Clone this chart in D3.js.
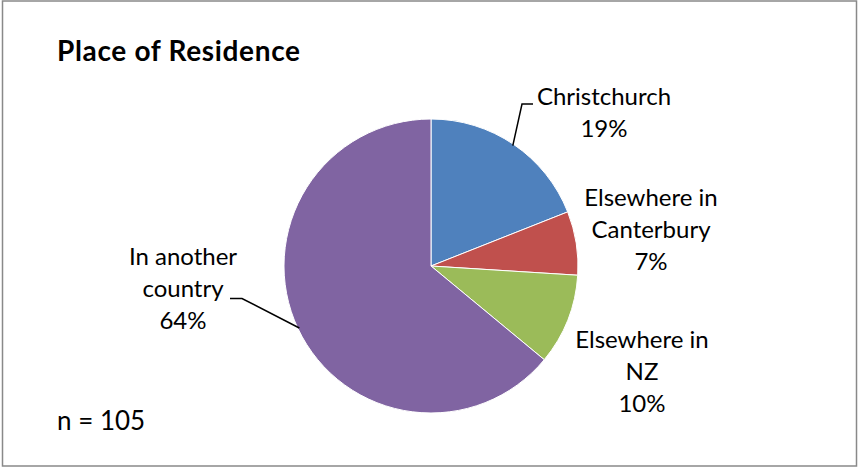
<!DOCTYPE html>
<html>
<head>
<meta charset="utf-8">
<script src="https://cdn.jsdelivr.net/npm/d3@7"></script>
<style>
  html, body { margin: 0; padding: 0; background: #fff; }
  svg { display: block; }
  text { font-family: Lato, "Open Sans", sans-serif; fill: #000; }
</style>
</head>
<body>
<svg id="chart" width="859" height="468"></svg>
<script>
// Place of residence of respondents (n = 105), percent of total
const categories = ["Christchurch", "Elsewhere in Canterbury", "Elsewhere in NZ", "In another country"];
const percents = [19, 7, 10, 64];
const colors = ["#4F81BD", "#C0504D", "#9BBB59", "#8064A2"];
const labelLines = [
  ["Christchurch", "19%"],
  ["Elsewhere in", "Canterbury", "7%"],
  ["Elsewhere in", "NZ", "10%"],
  ["In another", "country", "64%"]
];
const titleText = "Place of Residence";
const noteText = "n = 105";

const W = 859, H = 468;
const cx = 431, cy = 266, R = 147;
const fontSize = 24, lineH = 32;

const svg = d3.select("#chart");

// chart frame
svg.append("rect")
  .attr("x", 2.5).attr("y", 1).attr("width", 854).attr("height", 465)
  .attr("fill", "#fff").attr("stroke", "#898989").attr("stroke-width", 1.5);

svg.append("text")
  .attr("x", 57).attr("y", 61)
  .attr("font-size", 28).attr("font-weight", "bold")
  .attr("textLength", 243).attr("lengthAdjust", "spacing")
  .text(titleText);

svg.append("text")
  .attr("x", 57).attr("y", 430)
  .attr("font-size", 26)
  .text(noteText);

const pie = d3.pie().sort(null).value(d => d)(percents);
const arc = d3.arc().innerRadius(0).outerRadius(R);

const g = svg.append("g").attr("transform", `translate(${cx},${cy})`);
g.selectAll("path").data(pie).join("path")
  .attr("d", arc)
  .attr("fill", (d, i) => colors[i])
  .attr("stroke", "#fff")
  .attr("stroke-width", 1);

// label anchor (horizontal center, first baseline) for each slice
const labelPos = [
  { x: 604, y: 105 },
  { x: 651, y: 206 },
  { x: 642, y: 348 },
  { x: 183, y: 265 }
];

labelLines.forEach((lines, i) => {
  const t = svg.append("text")
    .attr("text-anchor", "middle")
    .attr("font-size", fontSize);
  lines.forEach((s, k) => {
    t.append("tspan").attr("x", labelPos[i].x).attr("y", labelPos[i].y + k * lineH).text(s);
  });
});

// leader lines, starting from the slice edge at each slice's mid angle
const edge = (d, f) => {
  const a = (d.startAngle + d.endAngle) / 2;
  return [cx + Math.sin(a) * R * f, cy - Math.cos(a) * R * f];
};
const p0 = edge(pie[0], 0.99);
const p3 = edge(pie[3], 0.99);
const leaders = [
  [p0, [522, 104], [533, 104]],
  [p3, [242, 298.5], [230, 298.5]]
];
svg.selectAll("path.leader").data(leaders).join("path")
  .attr("class", "leader")
  .attr("d", d => d3.line()(d))
  .attr("fill", "none")
  .attr("stroke", "#000")
  .attr("stroke-width", 1.5);
</script>
</body>
</html>
